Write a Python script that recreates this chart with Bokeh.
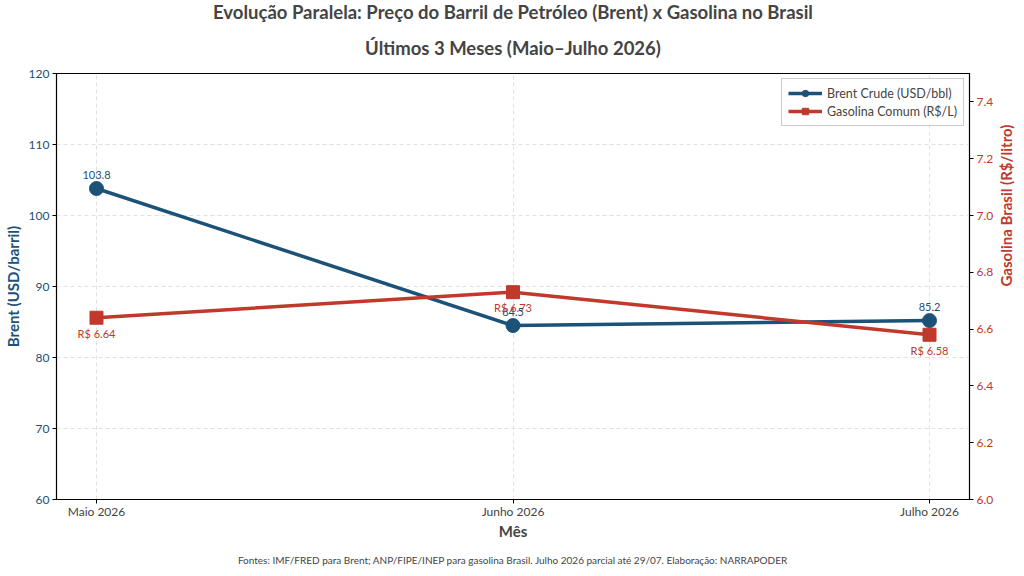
import math
from bokeh.plotting import figure
from bokeh.models import (Range1d, LinearAxis, FixedTicker, Title, Legend, LegendItem,
                          ColumnDataSource, LabelSet)
from bokeh.core.properties import value
from bokeh.embed import file_html
from bokeh.resources import INLINE

months = ["Maio 2026", "Junho 2026", "Julho 2026"]
brent = [103.8, 84.5, 85.2]
gasolina = [6.64, 6.73, 6.58]
brent_labels = ["103.8", "84.5", "85.2"]
gas_labels = ["R$ 6.64", "R$ 6.73", "R$ 6.58"]
brent_ticks = [60, 70, 80, 90, 100, 110, 120]
gas_ticks = [6.0, 6.2, 6.4, 6.6, 6.8, 7.0, 7.2, 7.4]

BLUE = "#1c5178"
RED = "#c0392b"
FONT = "Lato"

xs = list(range(len(months)))
src = ColumnDataSource(dict(x=xs, brent=brent, gas=gasolina, bl=brent_labels, gl=gas_labels))

p = figure(frame_width=913, frame_height=426, output_backend="svg", toolbar_location=None,
           x_range=Range1d(-0.096, 2.096), y_range=Range1d(60, 120),
           min_border_left=0, min_border_right=0, min_border_top=0, min_border_bottom=0)
p.extra_y_ranges = {"gas": Range1d(6.0, 7.5)}

p.outline_line_color = "black"
p.outline_line_width = 1.2

# axes
p.xaxis.ticker = FixedTicker(ticks=xs)
p.xaxis.major_label_overrides = {i: m for i, m in zip(xs, months)}
p.xaxis.axis_label = "Mês"
p.xaxis.axis_label_text_font = FONT
p.xaxis.axis_label_text_font_style = "bold"
p.xaxis.axis_label_text_font_size = "15px"
p.xaxis.major_label_text_font = FONT
p.xaxis.major_label_text_font_size = "12px"
p.xaxis.minor_tick_line_color = None
p.xaxis.major_tick_out = 4
p.xaxis.major_tick_in = 0
p.xaxis.major_label_standoff = 0
p.xaxis.axis_label_standoff = 0

p.yaxis.ticker = FixedTicker(ticks=brent_ticks)
p.yaxis.axis_label = "Brent (USD/barril)"
p.yaxis.axis_label_text_color = BLUE
p.yaxis.axis_label_text_font = FONT
p.yaxis.axis_label_text_font_style = "bold"
p.yaxis.axis_label_text_font_size = "15px"
p.yaxis.major_label_text_color = BLUE
p.yaxis.major_label_text_font = FONT
p.yaxis.major_label_text_font_size = "12px"
p.yaxis.minor_tick_line_color = None
p.yaxis.major_tick_out = 4
p.yaxis.major_tick_in = 0
p.yaxis.major_label_standoff = 3
p.yaxis.axis_label_standoff = 4

ax2 = LinearAxis(y_range_name="gas", ticker=FixedTicker(ticks=gas_ticks),
                 axis_label="Gasolina Brasil (R$/litro)")
ax2.axis_label_text_color = RED
ax2.axis_label_text_font = FONT
ax2.axis_label_text_font_style = "bold"
ax2.axis_label_text_font_size = "15px"
ax2.axis_label_orientation = math.pi / 2
ax2.major_label_text_color = RED
ax2.major_label_text_font = FONT
ax2.major_label_text_font_size = "12px"
ax2.minor_tick_line_color = None
ax2.major_tick_out = 4
ax2.major_tick_in = 0
ax2.major_label_standoff = 3
ax2.axis_label_standoff = 10
ax2.major_label_overrides = {t: f"{t:.1f}" for t in gas_ticks}
p.add_layout(ax2, "right")

p.xgrid.grid_line_dash = "4 3"
p.ygrid.grid_line_dash = "4 3"
p.xgrid.grid_line_color = "#e0e0e0"
p.ygrid.grid_line_color = "#e0e0e0"
p.ygrid.ticker = FixedTicker(ticks=brent_ticks[1:-1])

# series
bl = p.line("x", "brent", source=src, line_color=BLUE, line_width=3.5)
bm = p.scatter("x", "brent", source=src, marker="circle", size=14, fill_color=BLUE, line_color=BLUE)
gl = p.line("x", "gas", source=src, line_color=RED, line_width=3.5, y_range_name="gas")
gm = p.scatter("x", "gas", source=src, marker="square", size=13, fill_color=RED, line_color=RED,
               y_range_name="gas")

p.add_layout(LabelSet(x="x", y="brent", text="bl", source=src, x_offset=0, y_offset=10,
                      text_align="center", text_baseline="bottom", text_color=BLUE,
                      text_font=value(FONT), text_font_size="11px"))
p.add_layout(LabelSet(x="x", y="gas", text="gl", source=src, x_offset=0, y_offset=-9,
                      text_align="center", text_baseline="top", text_color=RED,
                      text_font=value(FONT), text_font_size="11px", y_range_name="gas"))

legend = Legend(items=[LegendItem(label="Brent Crude (USD/bbl)", renderers=[bl, bm]),
                       LegendItem(label="Gasolina Comum (R$/L)", renderers=[gl, gm])],
                location="top_right", label_text_font=FONT, label_text_font_size="12.5px",
                glyph_width=34, glyph_height=16, spacing=2, padding=6, margin=5,
                label_height=16, border_line_color="#cccccc", border_line_alpha=1.0,
                background_fill_alpha=0.9)
p.add_layout(legend)

# titles (inner-most first)
foot = Title(text="Fontes: IMF/FRED para Brent; ANP/FIPE/INEP para gasolina Brasil. Julho 2026 parcial até 29/07. Elaboração: NARRAPODER",
             align="center", text_font=FONT, text_font_size="10px", text_font_style="normal",
             standoff=18)
p.add_layout(foot, "below")
t2 = Title(text="Últimos 3 Meses (Maio–Julho 2026)", align="center", vertical_align="top",
           text_font=FONT, text_font_size="18.5px", text_font_style="bold", standoff=25)
t1 = Title(text="Evolução Paralela: Preço do Barril de Petróleo (Brent) x Gasolina no Brasil",
           align="center", vertical_align="top", text_font=FONT, text_font_size="18.5px",
           text_font_style="bold", standoff=0)
p.add_layout(t2, "above")
p.add_layout(t1, "above")

open("out.html", "w").write(file_html(p, INLINE))
